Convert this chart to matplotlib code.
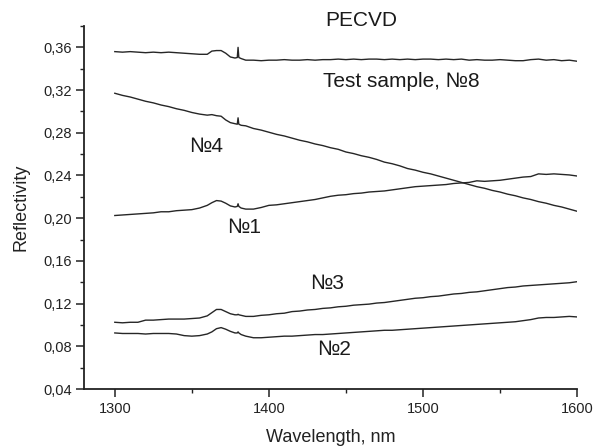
import matplotlib
matplotlib.use("Agg")
import matplotlib.pyplot as plt
from matplotlib.ticker import MultipleLocator, FuncFormatter

plt.rcParams['font.family'] = ['Liberation Sans', 'DejaVu Sans']

wavelength = [1300, 1305, 1310, 1315, 1320, 1325, 1330, 1335, 1340, 1345, 1350, 1355, 1360,
              1363, 1366, 1369, 1372, 1375, 1378, 1379.5, 1380, 1380.5, 1382, 1385,
              1390, 1395, 1400, 1405, 1410, 1415, 1420, 1425, 1430, 1435, 1440, 1445,
              1450, 1455, 1460, 1465, 1470, 1475, 1480, 1485, 1490, 1495, 1500, 1505,
              1510, 1515, 1520, 1525, 1530, 1535, 1540, 1545, 1550, 1555, 1560, 1565,
              1570, 1575, 1580, 1585, 1590, 1595, 1600]

r8 = [.356, .3555, .356, .3555, .355, .3555, .355, .3555, .355, .3545, .354, .3535, .3535,
      .3565, .357, .357, .3545, .351, .350, .3505, .360, .3505, .3495, .348,
      .348, .3475, .348, .348, .3485, .348, .348, .3485, .348, .3485, .3485, .349,
      .3485, .349, .3485, .349, .349, .3485, .349, .3485, .349, .3485, .349, .349,
      .3485, .349, .3485, .349, .348, .3485, .348, .348, .3485, .348, .3475, .3475,
      .3485, .349, .348, .3485, .3475, .348, .347]

r4 = [.317, .315, .3135, .3115, .3095, .308, .306, .3045, .3025, .301, .299, .2975, .2965,
      .297, .296, .2955, .292, .2895, .2885, .288, .294, .288, .287, .2865,
      .284, .2825, .2805, .2785, .277, .275, .273, .2715, .2695, .268, .266, .2645,
      .262, .2605, .2585, .257, .255, .2525, .251, .249, .2465, .245, .243, .2415,
      .2395, .2375, .2355, .2335, .2315, .2295, .228, .226, .2245, .2225, .221, .219,
      .2175, .2155, .214, .212, .2105, .2085, .2065]

r1 = [.2025, .203, .2035, .204, .2045, .205, .206, .206, .207, .2075, .208, .2095, .212,
      .2145, .2165, .216, .214, .2115, .2105, .211, .2135, .211, .2095, .2085,
      .2085, .210, .212, .2125, .2135, .2145, .2155, .2165, .2175, .219, .2205, .2215,
      .222, .223, .2235, .2245, .225, .2255, .2265, .2275, .2285, .2295, .230, .2305,
      .231, .2315, .2325, .233, .2335, .235, .2345, .235, .2355, .2365, .2375, .2385,
      .239, .2415, .241, .2415, .241, .2405, .2395]

r3 = [.1025, .102, .1025, .1025, .1045, .1045, .105, .1055, .1055, .1055, .106, .1065, .1085,
      .1115, .1145, .1145, .1125, .1105, .1095, .1095, .1100, .1095, .109, .108,
      .108, .109, .1095, .1105, .111, .1125, .113, .114, .1145, .1155, .116, .117,
      .1175, .1185, .119, .1195, .1205, .121, .122, .123, .124, .125, .1255, .1265,
      .127, .128, .129, .1295, .1305, .131, .132, .133, .134, .135, .1355, .1365,
      .137, .1375, .138, .1385, .139, .1395, .1405]

r2 = [.0925, .092, .092, .092, .0915, .092, .092, .092, .0915, .090, .0895, .090, .0915,
      .0935, .0965, .0975, .096, .094, .0925, .0925, .0935, .0925, .091, .0895,
      .088, .088, .0885, .089, .0895, .0895, .090, .0905, .091, .091, .0915, .092,
      .0925, .093, .0935, .094, .0945, .095, .095, .0955, .096, .0965, .097, .0975,
      .098, .0985, .099, .0995, .100, .1005, .101, .1015, .102, .1025, .103, .104,
      .105, .1065, .107, .107, .1075, .108, .1075]

series = [r8, r4, r1, r3, r2]

labels = ['Test sample, №8', '№4', '№1', '№3', '№2']
label_pos = [(1486, 0.328), (1359, 0.267), (1384, 0.191), (1438, 0.1385), (1442, 0.0766)]


def main():
    fig = plt.figure(figsize=(5.94, 4.46), dpi=100)
    ax = fig.add_axes([0.1414, 0.1278, 0.83, 0.8139])

    for r in series:
        ax.plot(wavelength, r, color='#262626', lw=1.0)

    for text, (x, y) in zip(labels, label_pos):
        ax.text(x, y, text, fontsize=15, ha='center', va='center', color='#1a1a1a')

    ax.text(1460, 0.385, 'PECVD', fontsize=15, ha='center', va='center',
            color='#1a1a1a', clip_on=False)

    ax.set_xlim(1280, 1600)
    ax.set_ylim(0.04, 0.38)
    ax.spines['top'].set_visible(False)
    ax.spines['right'].set_visible(False)
    for s in ('left', 'bottom'):
        ax.spines[s].set_linewidth(1.3)
        ax.spines[s].set_color('#222222')

    ax.xaxis.set_major_locator(MultipleLocator(100))
    ax.xaxis.set_minor_locator(MultipleLocator(50))
    ax.yaxis.set_major_locator(MultipleLocator(0.04))
    ax.yaxis.set_minor_locator(MultipleLocator(0.02))
    ax.set_xticks([1300, 1400, 1500, 1600])
    ax.yaxis.set_major_formatter(FuncFormatter(lambda v, p: f'{v:.2f}'.replace('.', ',')))

    ax.tick_params(which='major', length=5.5, width=1.1, labelsize=10.5,
                   color='#222222', labelcolor='#222222')
    ax.tick_params(which='minor', length=3, width=1.0, color='#222222')
    ax.tick_params(axis='y', which='both', pad=3)
    ax.tick_params(axis='x', which='both', pad=4)

    ax.set_xlabel('Wavelength, nm', fontsize=13, color='#222222', labelpad=9)
    ax.set_ylabel('Reflectivity', fontsize=13, color='#222222', labelpad=10)

    fig.savefig('out.png', dpi=100)


if __name__ == '__main__':
    main()
